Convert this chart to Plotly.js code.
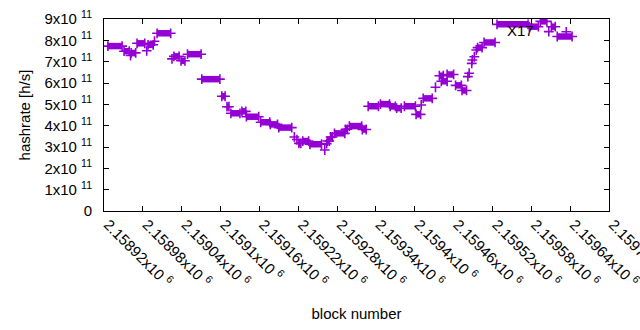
<!DOCTYPE html>
<html><head><meta charset="utf-8">
<script src="https://cdn.plot.ly/plotly-3.0.1.min.js"></script>
<style>html,body{margin:0;padding:0;background:#fff}#chart{width:640px;height:330px}</style>
</head><body><div id="chart"></div>
<script>
// Runs of blocks sharing the same hashrate estimate (first block, last block, hashrate h/s)
const segStart = [2158926,2158951,2158961,2158962,2158971,2158986,2158988,2158998,2159002,2159025,
  2159028,2159039,2159049,2159071,2159102,2159110,2159116,2159133,2159140,2159162,
  2159177,2159190,2159214,2159218,2159221,2159227,2159238,2159261,2159264,2159265,
  2159270,2159276,2159293,2159299,2159319,2159328,2159347,2159362,2159372,2159384,
  2159402,2159410,2159413,2159432,2159438,2159441,2159450,2159463,2159473,2159482,
  2159484,2159488,2159489,2159492,2159495,2159497,2159507,2159527,2159577,2159594,
  2159607,2159611,2159620,2159634];
const segEnd = [2158948,2158959,2158961,2158969,2158983,2158986,2158996,2158998,2159023,2159025,
  2159036,2159045,2159070,2159099,2159107,2159113,2159130,2159139,2159159,2159176,
  2159188,2159210,2159214,2159218,2159224,2159236,2159256,2159261,2159264,2159268,
  2159273,2159292,2159296,2159318,2159325,2159344,2159361,2159370,2159379,2159401,
  2159409,2159410,2159427,2159432,2159444,2159450,2159460,2159472,2159480,2159482,
  2159484,2159488,2159489,2159492,2159495,2159504,2159524,2159575,2159591,2159604,
  2159607,2159617,2159643,2159634];
const segRate = [7.73e11,7.49e11,7.29e11,7.41e11,7.86e11,7.51e11,7.79e11,7.96e11,8.33e11,7.13e11,
  7.25e11,7.04e11,7.35e11,6.18e11,5.38e11,4.89e11,4.58e11,4.67e11,4.42e11,4.16e11,
  4.06e11,3.91e11,3.47e11,3.35e11,3.17e11,3.28e11,3.13e11,2.86e11,3.16e11,3.28e11,
  3.47e11,3.64e11,3.83e11,3.98e11,3.82e11,4.91e11,5.01e11,4.90e11,4.82e11,4.91e11,
  4.53e11,4.97e11,5.28e11,5.80e11,6.34e11,6.08e11,6.40e11,5.89e11,5.65e11,6.30e11,
  6.46e11,6.92e11,7.08e11,7.23e11,7.55e11,7.66e11,7.90e11,8.75e11,8.64e11,8.89e11,
  8.41e11,8.64e11,8.18e11,8.40e11];

const xTickVals = [2158920,2158980,2159040,2159100,2159160,2159220,2159280,2159340,2159400,2159460,2159520,2159580,2159640,2159700];
const xTickText = ["2.15892x10 <sup>6</sup>","2.15898x10 <sup>6</sup>","2.15904x10 <sup>6</sup>","2.1591x10 <sup>6</sup>",
  "2.15916x10 <sup>6</sup>","2.15922x10 <sup>6</sup>","2.15928x10 <sup>6</sup>","2.15934x10 <sup>6</sup>",
  "2.1594x10 <sup>6</sup>","2.15946x10 <sup>6</sup>","2.15952x10 <sup>6</sup>","2.15958x10 <sup>6</sup>",
  "2.15964x10 <sup>6</sup>","2.1597x10 <sup>6</sup>"];
const yTickVals = [0,1e11,2e11,3e11,4e11,5e11,6e11,7e11,8e11,9e11];
const yTickText = ["0","1x10 <sup>11</sup>","2x10 <sup>11</sup>","3x10 <sup>11</sup>","4x10 <sup>11</sup>",
  "5x10 <sup>11</sup>","6x10 <sup>11</sup>","7x10 <sup>11</sup>","8x10 <sup>11</sup>","9x10 <sup>11</sup>"];

const labelText = "X17";
const labelX = 2159540, labelY = 8.44e11;

const purple = '#9400d3';
const lx = [], ly = [], mx = [], my = [];
for (let i = 0; i < segStart.length; i++) {
  lx.push(segStart[i], segEnd[i], null);
  ly.push(segRate[i], segRate[i], null);
  mx.push(segStart[i]); my.push(segRate[i]);
  if (segEnd[i] !== segStart[i]) { mx.push(segEnd[i]); my.push(segRate[i]); }
}

const font = {family: 'Liberation Sans, Arial, sans-serif', size: 15, color: '#000'};
const data = [
  {type: 'scatter', mode: 'lines', x: lx, y: ly, line: {color: purple, width: 6.5}, hoverinfo: 'skip', showlegend: false, connectgaps: false},
  {type: 'scatter', mode: 'markers', x: mx, y: my, hoverinfo: 'skip', showlegend: false,
   marker: {symbol: 'cross-thin', size: 7, color: purple, line: {color: purple, width: 1.6}}}
];
const axisCommon = {showline: true, linecolor: '#000', linewidth: 1, mirror: 'ticks', ticks: 'inside', ticklen: 5,
  tickcolor: '#000', showgrid: false, zeroline: false, tickfont: font, tickmode: 'array', ticklabeloverflow: 'allow'};
const layout = {
  width: 640, height: 330,
  margin: {l: 104, r: 31, t: 19, b: 119},
  paper_bgcolor: '#fff', plot_bgcolor: '#fff',
  font: font,
  xaxis: Object.assign({}, axisCommon, {range: [2158920, 2159700], tickvals: xTickVals, ticktext: xTickText,
    tickangle: 45, ticklabelstandoff: -2, ticklabelshift: 4, title: {text: 'block number', font: font, standoff: 18}}),
  yaxis: Object.assign({}, axisCommon, {range: [0, 9e11], tickvals: yTickVals, ticktext: yTickText,
    ticklabelstandoff: 8, title: {text: 'hashrate [h/s]', font: font, standoff: 10}}),
  annotations: [{x: labelX, y: labelY, xref: 'x', yref: 'y', text: labelText, showarrow: false,
    xanchor: 'left', yanchor: 'middle', font: font}]
};
Plotly.newPlot('chart', data, layout, {staticPlot: true, displayModeBar: false});
</script></body></html>
